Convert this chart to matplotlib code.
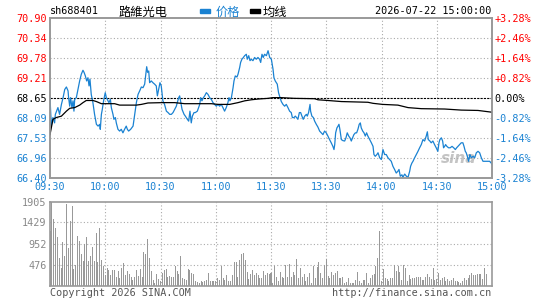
import matplotlib
matplotlib.use("Agg")
import matplotlib.pyplot as plt
import numpy as np

# intraday data, minutes after 09:30 (lunch break removed)
price_minutes = [0, 0.7, 1.6, 2.5, 2.9, 4.3, 5.2, 6.2, 7.1, 8.0, 8.9, 9.8, 10.1, 10.7, 11.2, 11.9,
                 12.5, 13.0, 13.4, 14.3, 15.2, 16.1, 17.0, 17.9, 18.5, 19.2, 19.9, 20.6, 21.2, 21.7,
                 22.4, 23.3, 24.2, 25.2, 26.1, 27.0, 27.3, 27.9, 28.4, 29.1, 30.0, 30.6, 31.5, 32.0,
                 32.8, 33.3, 34.2, 34.7, 35.5, 36.0, 36.9, 37.8, 38.7, 39.6, 40.5, 41.4, 42.0, 42.7,
                 43.8, 45.1, 46.0, 46.9, 47.8, 48.7, 49.6, 50.5, 51.4, 51.9, 52.5, 53.0, 53.6, 54.1,
                 55.0, 55.9, 56.8, 57.7, 58.3, 59.0, 59.7, 60.4, 61.3, 62.2, 63.2, 64.1, 65.0, 65.9,
                 66.8, 67.7, 68.6, 69.1, 69.9, 70.4, 70.9, 71.7, 72.8, 73.5, 74.6, 75.3, 76.0, 76.7,
                 77.3, 78.2, 78.9, 80.0, 80.7, 81.3, 81.8, 82.5, 83.3, 84.0, 84.9, 85.8, 86.7, 87.6,
                 88.5, 89.4, 90.3, 91.2, 92.1, 93.0, 93.9, 94.8, 95.7, 96.6, 97.2, 97.7, 98.5, 99.4,
                 99.9, 100.6, 101.5, 102.1, 103.0, 103.5, 104.2, 105.0, 105.7, 106.6, 107.1, 107.9,
                 108.6, 109.3, 110.2, 111.1, 112.0, 112.9, 113.8, 114.4, 115.1, 115.8, 116.5, 117.5,
                 118.4, 119.3, 120.2, 121.1, 121.6, 122.3, 123.4, 124.1, 124.9, 125.6, 126.5, 127.4,
                 128.3, 129.2, 130.1, 131.0, 131.6, 132.5, 133.2, 133.9, 134.6, 135.4, 136.1, 136.8,
                 137.5, 138.3, 139.2, 139.7, 140.4, 141.2, 141.5, 142.2, 143.0, 143.7, 144.6, 145.5,
                 146.4, 147.3, 148.2, 149.1, 150.0, 150.9, 151.8, 152.7, 153.6, 154.2, 154.6, 155.1,
                 155.8, 156.4, 156.9, 157.4, 158.2, 159.1, 160.0, 160.7, 161.4, 162.2, 162.9, 163.6,
                 164.3, 165.0, 165.8, 166.5, 167.2, 167.9, 168.5, 169.0, 169.8, 170.5, 171.2, 171.9,
                 172.6, 173.6, 174.5, 175.4, 175.9, 176.6, 177.5, 178.1, 179.0, 179.9, 180.8, 181.7,
                 182.6, 183.5, 184.4, 185.3, 186.2, 187.1, 188.0, 188.9, 189.5, 190.2, 191.1, 191.6,
                 192.6, 193.5, 194.4, 195.3, 195.8, 196.5, 197.1, 198.0, 198.9, 199.8, 200.7, 201.6,
                 202.5, 203.4, 204.3, 204.9, 205.4, 206.1, 207.0, 207.9, 208.8, 209.7, 210.6, 211.2,
                 211.7, 212.5, 213.2, 213.7, 214.3, 214.8, 215.5, 216.4, 217.3, 218.3, 219.2, 220.1,
                 220.8, 221.5, 222.4, 223.3, 224.2, 224.8, 225.5, 226.0, 226.6, 227.3, 228.0, 228.8,
                 229.7, 230.6, 231.5, 232.4, 233.3, 234.2, 235.1, 236.0, 236.9, 237.8, 238.7, 239.6,
                 240.0]
price_values = [68.66, 67.88, 68.10, 67.95, 68.19, 68.38, 68.19, 68.47, 68.66, 68.89, 68.96, 68.85,
                68.66, 68.42, 68.66, 68.38, 68.57, 68.28, 68.61, 68.66, 68.90, 69.13, 69.32, 69.43,
                69.37, 69.27, 69.13, 69.22, 68.99, 69.18, 68.75, 68.52, 68.19, 67.91, 67.86, 67.91,
                67.77, 68.19, 68.33, 68.57, 68.80, 68.66, 68.57, 68.52, 68.61, 68.38, 68.19, 68.05,
                68.10, 67.95, 67.77, 67.72, 67.77, 67.67, 67.77, 67.86, 67.77, 67.72, 67.77, 67.86,
                68.19, 68.52, 68.75, 68.85, 68.96, 68.94, 69.04, 69.27, 69.53, 69.37, 69.41, 69.08,
                69.13, 69.08, 69.04, 68.99, 68.71, 68.90, 69.08, 68.99, 68.57, 68.47, 68.28, 68.24,
                68.19, 68.19, 68.24, 68.33, 68.42, 68.52, 68.66, 68.71, 68.57, 68.33, 68.19, 68.14,
                68.05, 68.00, 68.28, 67.95, 68.14, 68.24, 68.24, 68.28, 68.38, 68.47, 68.66, 68.57,
                68.66, 68.71, 68.80, 68.75, 68.66, 68.61, 68.52, 68.47, 68.42, 68.47, 68.42, 68.47,
                68.38, 68.28, 68.38, 68.52, 68.66, 68.57, 68.66, 68.94, 69.13, 69.27, 69.24, 69.32,
                69.51, 69.65, 69.74, 69.79, 69.84, 69.88, 69.74, 69.84, 69.70, 69.74, 69.70, 69.79,
                69.74, 69.79, 69.74, 69.65, 69.88, 69.79, 69.88, 69.84, 69.98, 69.79, 69.74, 69.46,
                69.22, 69.13, 69.04, 68.80, 68.66, 68.55, 68.47, 68.42, 68.47, 68.38, 68.28, 68.24,
                68.10, 68.10, 68.14, 68.10, 68.05, 68.24, 68.24, 68.14, 68.05, 68.14, 68.19, 68.14,
                68.24, 68.47, 68.28, 68.14, 68.10, 68.00, 67.91, 67.83, 67.72, 67.67, 67.62, 67.72,
                67.67, 67.58, 67.48, 67.39, 67.29, 67.20, 67.34, 67.67, 67.81, 67.86, 67.91, 67.77,
                67.48, 67.45, 67.44, 67.53, 67.67, 67.58, 67.53, 67.44, 67.53, 67.62, 67.67, 67.67,
                67.77, 67.91, 67.95, 67.81, 67.72, 67.67, 67.58, 67.67, 67.58, 67.48, 67.39, 67.29,
                67.06, 67.01, 67.06, 67.11, 66.97, 66.92, 67.20, 67.06, 67.06, 66.97, 66.92, 66.87,
                66.73, 66.64, 66.54, 66.59, 66.64, 66.45, 66.49, 66.42, 66.51, 66.45, 66.42, 66.59,
                66.73, 66.82, 66.87, 66.97, 67.06, 67.15, 67.25, 67.34, 67.48, 67.44, 67.58, 67.70,
                67.48, 67.45, 67.39, 67.44, 67.34, 67.25, 67.15, 67.39, 67.48, 67.53, 67.44, 67.25,
                67.29, 67.34, 67.29, 67.25, 67.25, 67.29, 67.25, 67.20, 67.25, 67.29, 67.34, 67.39,
                67.39, 67.29, 67.15, 67.11, 67.01, 66.87, 67.06, 66.97, 67.01, 66.97, 67.11, 67.15,
                67.11, 66.97, 66.87, 66.87, 66.87, 66.87, 66.87, 66.82, 66.78]

avg_minutes = [0, 1.6, 3.4, 6.2, 8.9, 10.7, 13.4, 16.1, 17.9, 19.7, 23.3, 25.2, 27.9, 35.1, 37.8,
               46.9, 49.6, 53.2, 61.3, 67.7, 73.1, 87.6, 91.2, 97.5, 102.1, 105.7, 109.3, 112.9,
               118.4, 120.9, 125.6, 132.8, 143.7, 145.5, 150.9, 158.2, 172.6, 175.4, 180.6, 188.9,
               194.4, 201.6, 214.3, 223.3, 232.4, 240.0]
avg_values = [67.62, 68.05, 68.10, 68.14, 68.28, 68.36, 68.38, 68.45, 68.52, 68.58, 68.58, 68.55,
              68.49, 68.49, 68.45, 68.45, 68.47, 68.51, 68.52, 68.52, 68.49, 68.49, 68.47, 68.47,
              68.52, 68.57, 68.60, 68.62, 68.64, 68.66, 68.66, 68.64, 68.63, 68.60, 68.58, 68.55,
              68.53, 68.50, 68.47, 68.45, 68.38, 68.35, 68.34, 68.31, 68.30, 68.25]

volumes = [1225, 1905, 1512, 1300, 1089, 620, 393, 983, 658, 1845, 847, 1452, 1800, 370, 469, 1126,
           1013, 711, 560, 945, 1089, 560, 658, 869, 560, 1194, 544, 1315, 582, 431, 242, 393, 355,
           242, 355, 355, 189, 318, 166, 393, 506, 242, 333, 257, 204, 129, 204, 355, 219, 378, 204,
           756, 711, 1051, 620, 333, 129, 53, 257, 151, 106, 280, 355, 370, 204, 219, 204, 204, 446,
           318, 257, 658, 166, 144, 129, 378, 355, 280, 257, 106, 76, 53, 91, 76, 91, 129, 280, 91,
           106, 91, 106, 166, 129, 431, 166, 129, 227, 91, 106, 242, 529, 529, 204, 582, 711, 733,
           582, 302, 151, 257, 355, 242, 280, 242, 181, 181, 333, 227, 280, 257, 280,
           53, 431, 189, 106, 302, 204, 166, 454, 204, 484, 204, 302, 227, 597, 166, 408, 189, 257,
           106, 204, 280, 53, 431, 166, 416, 544, 280, 181, 469, 597, 219, 166, 302, 242, 280, 333,
           181, 166, 204, 68, 76, 166, 53, 53, 53, 129, 302, 106, 53, 129, 129, 280, 53, 166, 227,
           257, 431, 620, 1225, 106, 370, 166, 151, 106, 166, 181, 469, 318, 431, 302, 129, 469,
           393, 106, 242, 151, 166, 181, 189, 204, 204, 129, 129, 189, 257, 204, 151, 408, 129, 151,
           280, 129, 166, 204, 106, 151, 91, 129, 166, 106, 91, 76, 53, 91, 166, 129, 181, 242, 280,
           227, 242, 257, 257, 257, 151, 393, 257]

prev_close = 68.65
price_ticks = [66.40, 66.96, 67.53, 68.09, 68.65, 69.21, 69.78, 70.34, 70.90]
pct_labels = ['-3.28%', '-2.46%', '-1.64%', '-0.82%', '0.00%', '+0.82%', '+1.64%', '+2.46%', '+3.28%']
time_ticks = [0, 30, 60, 90, 120, 150, 180, 210, 240]
time_labels = ['09:30', '10:00', '10:30', '11:00', '11:30', '13:30', '14:00', '14:30', '15:00']
vol_ticks = [476, 952, 1429, 1905]

BLUE = '#1a82d2'
RED = '#ff0000'
GRID = '#aaaaaa'
FRAME = '#999999'
W, H = 545, 300

plt.rcParams['font.family'] = ['DejaVu Sans Mono', 'Noto Sans CJK SC']


def frac(left, top, right, bottom):
    return [left / W, 1 - bottom / H, (right - left) / W, (bottom - top) / H]


def style_frame(a):
    for s in a.spines.values():
        s.set_color(FRAME)
        s.set_linewidth(1.2)


fig = plt.figure(figsize=(W / 100, H / 100), dpi=100)

# price panel
ax = fig.add_axes(frac(50, 18, 492, 178))
ax.set_xlim(0, 240)
ax.set_ylim(66.40, 70.90)
for t in price_ticks[1:-1]:
    if t == prev_close:
        continue
    ax.axhline(t, color=GRID, lw=0.8, ls=(0, (1, 2)), zorder=1)
for m in time_ticks[1:-1]:
    ax.axvline(m, color=GRID, lw=0.8, ls=(0, (1, 2)), zorder=1)
ax.axhline(prev_close, color='black', lw=0.8, ls=(0, (2, 1)), zorder=2)
ax.plot(price_minutes, price_values, color=BLUE, lw=0.9, zorder=3)
ax.plot(avg_minutes, avg_values, color='black', lw=0.9, zorder=4)

ax.set_yticks(price_ticks)
ax.set_yticklabels([f'{v:.2f}' for v in price_ticks])
for lab, v in zip(ax.get_yticklabels(), price_ticks):
    lab.set_color(RED if v > prev_close else ('black' if v == prev_close else BLUE))
ax.set_xticks(time_ticks)
ax.set_xticklabels(time_labels)
ax.tick_params(axis='both', length=0, labelsize=7.3)
ax.tick_params(axis='y', pad=2.5)
ax.tick_params(axis='x', pad=3.2, labelcolor=BLUE)
style_frame(ax)

axr = ax.twinx()
axr.set_ylim(66.40, 70.90)
axr.set_yticks(price_ticks)
axr.set_yticklabels(pct_labels)
for lab, v in zip(axr.get_yticklabels(), price_ticks):
    lab.set_color(RED if v > prev_close else ('black' if v == prev_close else BLUE))
axr.tick_params(axis='y', length=0, labelsize=7.3, pad=1.5)
style_frame(axr)

# sina watermark
ax.text(0.965, 0.12, 'sina', transform=ax.transAxes, ha='right', va='center',
        fontsize=11, fontstyle='italic', fontweight='bold', color='#c4c4c4',
        family='DejaVu Sans', zorder=0)

# volume panel
axv = fig.add_axes(frac(50, 201.5, 492, 285.5))
axv.set_xlim(0, 240)
axv.set_ylim(0, 1905)
for t in vol_ticks[:-1]:
    axv.axhline(t, color=GRID, lw=0.8, ls=(0, (1, 2)), zorder=1)
for m in time_ticks[1:-1]:
    axv.axvline(m, color=GRID, lw=0.8, ls=(0, (1, 2)), zorder=1)
axv.bar(np.arange(len(volumes)), volumes, width=0.55, color='#999999', linewidth=0,
        antialiased=False, zorder=2)
axv.set_xticks([])
axv.set_yticks(vol_ticks)
axv.set_yticklabels([str(v) for v in vol_ticks])
axv.tick_params(axis='y', length=0, labelsize=7.3, pad=2.5, labelcolor='#888888')
style_frame(axv)

# header
fig.text(50 / W, 1 - 11.5 / H, 'sh688401', fontsize=7.3, color='black', va='center')
fig.text(119 / W, 1 - 12.5 / H, '路維光电', fontsize=8.8, color='black', va='center',
         family=['Noto Sans CJK SC', 'DejaVu Sans'])
fig.add_artist(plt.Rectangle((200 / W, 1 - 12.5 / H), 9.5 / W, 3 / H, color=BLUE,
                             transform=fig.transFigure))
fig.text(216 / W, 1 - 12.5 / H, '价格', fontsize=8.8, color=BLUE, va='center',
         family=['Noto Sans CJK SC', 'DejaVu Sans'])
fig.add_artist(plt.Rectangle((250 / W, 1 - 12.5 / H), 9.5 / W, 3 / H, color='black',
                             transform=fig.transFigure))
fig.text(263 / W, 1 - 12.5 / H, '均线', fontsize=8.8, color='black', va='center',
         family=['Noto Sans CJK SC', 'DejaVu Sans'])
fig.text(491 / W, 1 - 11.5 / H, '2026-07-22 15:00:00', fontsize=7.3, color='black',
         va='center', ha='right')

# footer
fig.text(50 / W, 1 - 292.5 / H, 'Copyright 2026 SINA.COM', fontsize=7.3, color='#555555', va='center')
fig.text(491 / W, 1 - 292.5 / H, 'http://finance.sina.com.cn', fontsize=7.3, color='#555555',
         va='center', ha='right')

fig.savefig('out.png', dpi=100)
